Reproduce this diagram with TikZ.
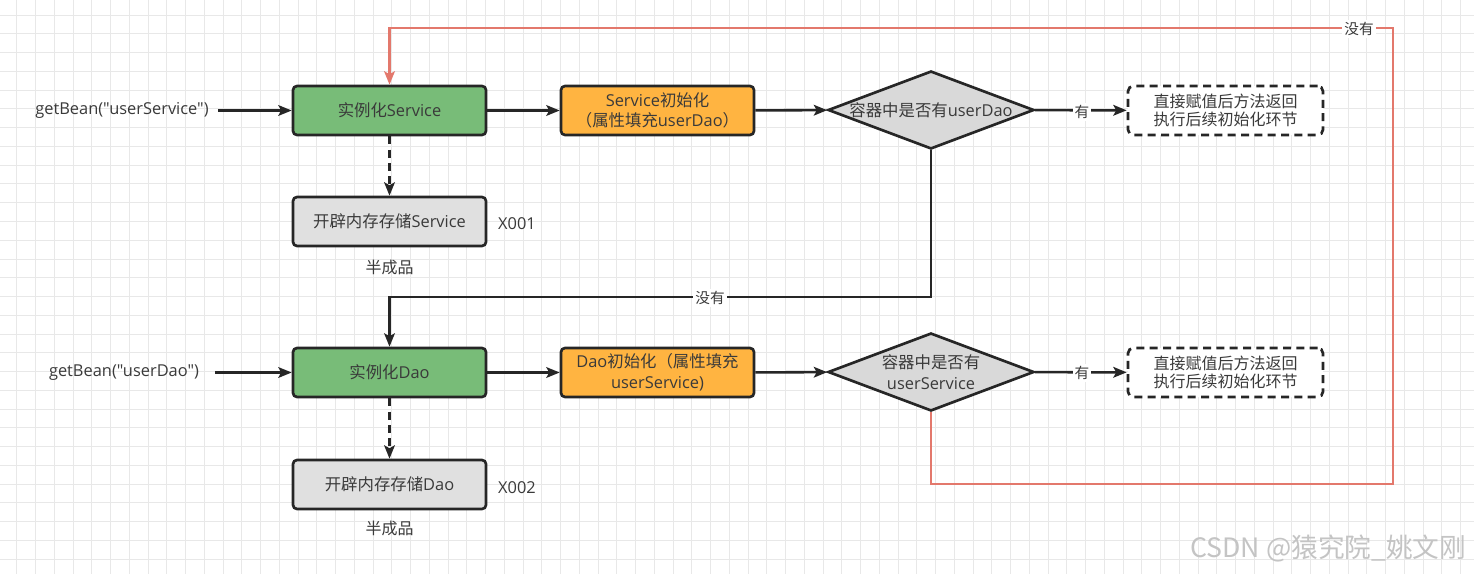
\documentclass[tikz,border=0pt]{standalone}
\usepackage{fontspec}
\setmainfont{Open Sans}[Ligatures=TeXOff]
\newfontfamily\cjk{Noto Sans CJK SC}
\newcommand\zh[1]{{\cjk #1}}
\usetikzlibrary{arrows.meta,shapes.geometric}
\definecolor{txt}{HTML}{3A3A3A}
\definecolor{edge}{HTML}{262626}
\definecolor{gfill}{HTML}{78BC78}
\definecolor{ofill}{HTML}{FFB441}
\definecolor{mfill}{HTML}{E0E0E0}
\definecolor{dfill}{HTML}{D9D9D9}
\definecolor{redl}{HTML}{E3786C}
\definecolor{gridc}{HTML}{E8E8E8}
\definecolor{wm}{HTML}{C4C4C4}
\begin{document}
\begin{tikzpicture}[x=0.75pt,y=-0.75pt,
  every node/.style={text=txt},
  base/.style={font=\fontsize{12.3}{15.5}\selectfont, align=center, inner sep=2pt},
  solidbox/.style={base, draw=edge, line width=2pt, rounded corners=3pt,
    minimum width=144.75pt, minimum height=36.75pt},
  instbox/.style={solidbox, fill=gfill},
  initbox/.style={solidbox, fill=ofill},
  membox/.style={solidbox, fill=mfill},
  decide/.style={base, diamond, draw=edge, line width=2pt, fill=dfill,
    inner sep=0pt, shape aspect=2.64, minimum width=154.5pt, minimum height=58.5pt},
  resultbox/.style={draw=edge, line width=2pt, rounded corners=4pt, fill=white,
    dash pattern=on 6pt off 4pt, minimum width=146.25pt, minimum height=36.75pt,
    align=center, font=\cjk\fontsize{12}{14}\selectfont, inner sep=2pt},
  plain/.style={base},
  lbl/.style={font=\cjk\fontsize{11}{12}\selectfont, fill=white, inner sep=1.5pt},
  tipa/.style={-{Stealth[length=10pt,width=8pt,inset=2.2pt]}},
  conn/.style={tipa, draw=edge, line width=1.9pt},
  dconn/.style={conn, dash pattern=on 6pt off 4pt},
  redconn/.style={tipa, draw=redl, line width=1.9pt}
]
\fill[white] (0,0) rectangle (1474,574);
\useasboundingbox (0,0) rectangle (1474,574);
% grid
\foreach \i in {0,...,80} \draw[gridc, line width=0.75pt] ({-1.8+\i*18.75},0) -- ({-1.8+\i*18.75},574);
\foreach \j in {0,...,31} \draw[gridc, line width=0.75pt] (0,{-3.5+\j*18.75}) -- (1474,{-3.5+\j*18.75});

% row 1
\node[plain] (gb1) at (122,110.5) {getBean("userService")};
\node[instbox] (s1) at (389.5,110.5) {\zh{实例化}Service};
\node[initbox] (o1) at (657.5,110.5) {Service\zh{初始化}\\\zh{（属性填充}userDao\zh{）}};
\node[decide] (d1) at (931,110) {\zh{容器中是否有}userDao};
\node[resultbox] (r1) at (1225.5,110.5) {直接赋值后方法返回\\执行后续初始化环节};
\node[membox] (m1) at (389.5,221.5) {\zh{开辟内存存储}Service};
\node[plain] (x1) at (517,224) {X001};
\node[plain, font=\cjk\fontsize{12}{14}\selectfont] (h1) at (389.5,267) {半成品};

% row 2
\node[plain] (gb2) at (124,372.5) {getBean("userDao")};
\node[instbox] (s2) at (389.5,372.5) {\zh{实例化}Dao};
\node[initbox] (o2) at (657.5,372.5) {Dao\zh{初始化（属性填充}\\userService)};
\node[decide] (d2) at (931,372) {\zh{容器中是否有}\\userService};
\node[resultbox] (r2) at (1225.5,372.5) {直接赋值后方法返回\\执行后续初始化环节};
\node[membox] (m2) at (389.5,484.5) {\zh{开辟内存存储}Dao};
\node[plain] (x2) at (517,488) {X002};
\node[plain, font=\cjk\fontsize{12}{14}\selectfont] (h2) at (389.5,528) {半成品};

% connectors row 1
\draw[conn] ([xshift=5pt]gb1.east) -- (s1);
\draw[conn] (s1) -- (o1);
\draw[conn] (o1) -- (d1);
\draw[conn] (d1) -- (r1);
\draw[dconn] (s1) -- (m1);
% connectors row 2
\draw[conn] ([xshift=10pt]gb2.east) -- (s2);
\draw[conn] (s2) -- (o2);
\draw[conn] (o2) -- (d2);
\draw[conn] (d2) -- (r2);
\draw[dconn] (s2) -- (m2);

% loop: d1 -> s2 (no)
\coordinate (j1) at (389.5,297);
\draw[conn] (d1.south) |- (j1) -- (s2.north);
% loop: d2 -> s1 (no), red
\coordinate (q1) at (1393,484);
\coordinate (q2) at (1393,28);
\coordinate (q3) at (389.5,28);
\draw[redconn] (d2.south) |- (q1) -- (q2) -- (q3) -- (s1.north);

% labels
\node[lbl] (l1) at (1082,112) {有};
\node[lbl] (l2) at (1082,373) {有};
\node[lbl] (l3) at (710,298) {没有};
\node[lbl] (l4) at (1359,29) {没有};

% watermark
\node[font=\cjk\fontsize{20}{22}\selectfont, text=wm, anchor=east] (wmk) at (1471,548) {CSDN @猿究院\_姚文刚};
\end{tikzpicture}
\end{document}
